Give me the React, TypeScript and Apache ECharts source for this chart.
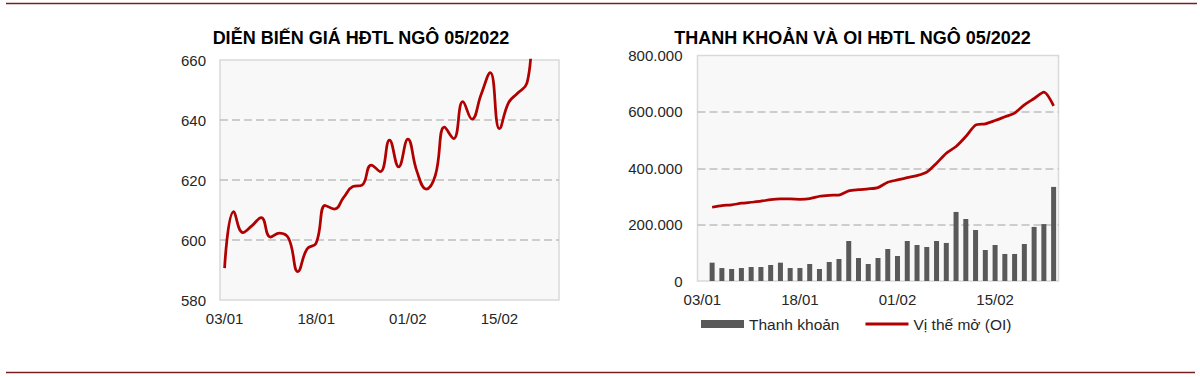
import React, { useEffect, useRef } from "react";
import * as echarts from "echarts";

const dates = [
  "03/01", "04/01", "05/01", "06/01", "07/01", "10/01", "11/01", "12/01", "13/01", "14/01",
  "18/01", "19/01", "20/01", "21/01", "24/01", "25/01", "26/01", "27/01", "28/01", "31/01",
  "01/02", "02/02", "03/02", "04/02", "07/02", "08/02", "09/02", "10/02", "11/02", "14/02",
  "15/02", "16/02", "17/02", "18/02", "22/02", "23/02", "24/02",
];

const price = [
  590.6, 609.5, 602.5, 604.8, 607.5, 601, 602.3, 600.5, 589.5, 597,
  599, 611.5, 610.3, 614.2, 617.8, 618.3, 625, 622.8, 633.3, 624.4,
  633.6, 622.8, 617, 621.5, 637.6, 633.8, 646.1, 640.3, 648.5, 655.8,
  637.1, 645.8, 649, 652.3, 671, 668, 686,
];

const volume = [
  null, 65000, 46000, 42600, 46000, 49700, 49700, 56800, 65000, 46000,
  46000, 60400, 42600, 67500, 78000, 142000, 81700, 60400, 81700, 113600,
  88800, 142000, 127800, 120700, 142000, 135000, 245000, 220000, 181000, 110000,
  127800, 95900, 95900, 131000, 191800, 202000, 333800,
];

const openInterest = [
  null, 261600, 267500, 270000, 275900, 279400, 283000, 288700, 291000, 291000,
  290000, 292000, 300700, 304000, 305000, 319600, 324000, 326700, 331400, 350400,
  358700, 366900, 374000, 386000, 418000, 453400, 477000, 512500, 552800, 557500,
  569300, 582400, 595500, 625000, 647400, 670000, 621400,
];

const priceTicks = { min: 580, max: 660, interval: 20 };
const volTicks = { min: 0, max: 800000, interval: 200000 };

const titleLeft = "DIỄN BIẾN GIÁ HĐTL NGÔ 05/2022";
const titleRight = "THANH KHOẢN VÀ OI HĐTL NGÔ 05/2022";
const seriesNames = ["Thanh khoản", "Vị thế mở (OI)"];

const FONT = '"Liberation Sans", Arial, sans-serif';
const RED = "#b00000";
const GRAY_BAR = "#595959";
const TEXT = "#262626";

function fmtThousands(v: number) {
  return String(Math.round(v)).replace(/\B(?=(\d{3})+(?!\d))/g, ".");
}

export default function App() {
  const ref = useRef<HTMLDivElement>(null);

  useEffect(() => {
    document.body.style.margin = "0";
    const chart = echarts.init(ref.current!, undefined, { renderer: "svg" });

    const splitLine = {
      show: true,
      showMinLine: false,
      showMaxLine: false,
      lineStyle: { color: "#bfbfbf", width: 1.5, type: [8, 4] as any },
    };
    const axisLabelY = { color: TEXT, fontSize: 15, fontFamily: FONT };

    chart.setOption({
      animation: false,
      backgroundColor: "#ffffff",
      textStyle: { fontFamily: FONT },
      grid: [
        {
          left: 220, top: 60, width: 339, height: 240,
          show: true, backgroundColor: "#f8f8f8", borderColor: "#d9d9d9", borderWidth: 1.5,
          containLabel: false,
        },
        {
          left: 697.5, top: 55.5, width: 361, height: 225.5,
          show: true, backgroundColor: "#f8f8f8", borderColor: "#d9d9d9", borderWidth: 1.5,
          containLabel: false,
        },
      ],
      xAxis: [
        {
          type: "category", gridIndex: 0, data: dates, boundaryGap: true,
          axisLine: { show: false }, axisTick: { show: false },
          axisLabel: { interval: 9, color: TEXT, fontSize: 15, fontFamily: FONT, margin: 11 },
        },
        {
          type: "category", gridIndex: 1, data: dates, boundaryGap: true,
          axisLine: { show: false }, axisTick: { show: false },
          axisLabel: { interval: 9, color: TEXT, fontSize: 15, fontFamily: FONT, margin: 11 },
        },
      ],
      yAxis: [
        {
          type: "value", gridIndex: 0, min: priceTicks.min, max: priceTicks.max,
          interval: priceTicks.interval,
          axisLine: { show: false }, axisTick: { show: false },
          axisLabel: { ...axisLabelY, margin: 14 },
          splitLine,
        },
        {
          type: "value", gridIndex: 1, min: volTicks.min, max: volTicks.max,
          interval: volTicks.interval,
          axisLine: { show: false }, axisTick: { show: false },
          axisLabel: { ...axisLabelY, margin: 15, formatter: (v: number) => fmtThousands(v) },
          splitLine,
        },
      ],
      legend: {
        data: [
          { name: seriesNames[0], icon: "rect" },
          { name: seriesNames[1], icon: "path://M0,0 L43,0 L43,3 L0,3 Z" },
        ],
        left: 701, top: 316,
        itemWidth: 43, itemHeight: 8, itemGap: 26,
        padding: 0,
        textStyle: { color: TEXT, fontSize: 15.5, fontFamily: FONT },
      },
      series: [
        {
          name: "Giá",
          type: "line", xAxisIndex: 0, yAxisIndex: 0,
          data: price, smooth: 0.45, symbol: "none", clip: true,
          lineStyle: { color: RED, width: 2.75 },
          itemStyle: { color: RED },
        },
        {
          name: seriesNames[0],
          type: "bar", xAxisIndex: 1, yAxisIndex: 1,
          data: volume, barWidth: 5,
          itemStyle: { color: GRAY_BAR },
        },
        {
          name: seriesNames[1],
          type: "line", xAxisIndex: 1, yAxisIndex: 1,
          data: openInterest, smooth: 0.25, symbol: "none",
          lineStyle: { color: RED, width: 2.75 },
          itemStyle: { color: RED },
        },
      ],
      graphic: [
        {
          type: "line", shape: { x1: 6, y1: 3.5, x2: 1197, y2: 3.5 },
          style: { stroke: "#7a1f1f", lineWidth: 1.5 }, silent: true,
        },
        {
          type: "line", shape: { x1: 6, y1: 372.5, x2: 1195, y2: 372.5 },
          style: { stroke: "#7a1f1f", lineWidth: 1.5 }, silent: true,
        },
        {
          type: "text", x: 361, y: 37.5,
          style: {
            text: titleLeft, textAlign: "center", textVerticalAlign: "middle",
            font: `bold 18px ${FONT}`, fill: "#000000",
          },
        },
        {
          type: "text", x: 852.5, y: 37.5,
          style: {
            text: titleRight, textAlign: "center", textVerticalAlign: "middle",
            font: `bold 18px ${FONT}`, fill: "#000000",
          },
        },
      ],
    });

    return () => chart.dispose();
  }, []);

  return <div ref={ref} style={{ width: 1200, height: 377 }} />;
}
